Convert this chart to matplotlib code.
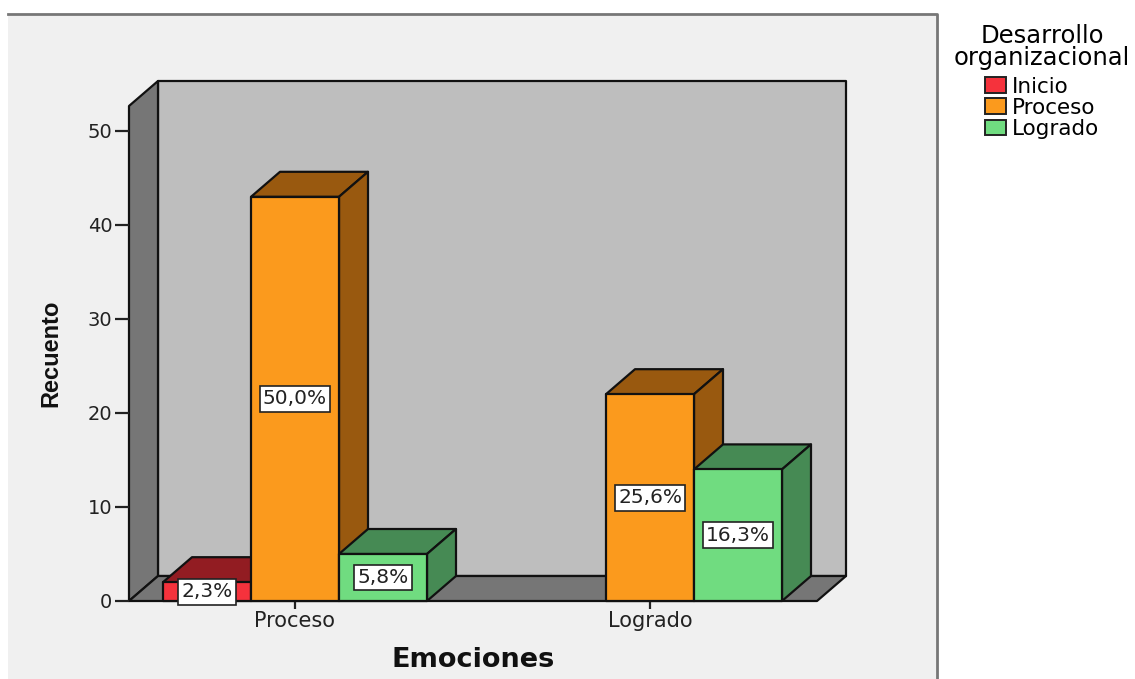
import matplotlib
matplotlib.use("Agg")
import matplotlib.pyplot as plt
from matplotlib.patches import Patch, Polygon, Rectangle
from matplotlib.lines import Line2D

categories = ["Proceso", "Logrado"]
series_names = ["Inicio", "Proceso", "Logrado"]
inicio = [2, 0]
proceso = [43, 22]
logrado = [5, 14]
inicio_labels = ["2,3%", None]
proceso_labels = ["50,0%", "25,6%"]
logrado_labels = ["5,8%", "16,3%"]
y_ticks = [0, 10, 20, 30, 40, 50]

front_colors = ["#f5323c", "#fb9a1d", "#70dc80"]
dark_colors = ["#921c22", "#99590f", "#468a54"]

W, H = 1135, 679
BAR_W = 88 / 355
DX = 29 / 355
DY = 25 / 9.4
X0, X1 = -166 / 355, 522 / 355
Y1 = 495 / 9.4

fig = plt.figure(figsize=(W / 100, H / 100), dpi=100, facecolor="white")

# grey panel behind the plot, with a border on top and right only
fig.add_artist(Rectangle((8 / W, 0), 929 / W, 1 - 14 / H, transform=fig.transFigure, fc="#f0f0f0", ec="none", zorder=-2))
fig.add_artist(Line2D([8 / W, 937 / W, 937 / W], [1 - 14 / H, 1 - 14 / H, 0], transform=fig.transFigure, color="#777777", lw=2, zorder=-1))

ax = fig.add_axes([129 / W, 1 - 601 / H, 688 / W, 495 / H])
ax.set_xlim(X0, X1)
ax.set_ylim(0, Y1)
ax.patch.set_visible(False)
for s in ax.spines.values():
    s.set_visible(False)


def face(points, color, z):
    ax.add_patch(Polygon(points, closed=True, fc=color, ec="#111111", lw=1.6, zorder=z, clip_on=False, joinstyle="round"))


# back wall, left wall and floor
face([(X0 + DX, DY), (X1 + DX, DY), (X1 + DX, Y1 + DY), (X0 + DX, Y1 + DY)], "#bebebe", 1)
face([(X0, 0), (X0, Y1), (X0 + DX, Y1 + DY), (X0 + DX, DY)], "#767676", 1)
face([(X0, 0), (X1, 0), (X1 + DX, DY), (X0 + DX, DY)], "#767676", 1)


def bar3d(left, value, front, dark, z):
    right = left + BAR_W
    face([(left, value), (right, value), (right + DX, value + DY), (left + DX, value + DY)], dark, z)
    face([(right, 0), (right, value), (right + DX, value + DY), (right + DX, DY)], dark, z)
    face([(left, 0), (right, 0), (right, value), (left, value)], front, z)


z = 2
for i in range(len(categories)):
    groups = [(inicio, inicio_labels), (proceso, proceso_labels), (logrado, logrado_labels)]
    for j, (vals, labs) in enumerate(groups):
        if vals[i] == 0:
            continue
        left = i + (j - 1) * BAR_W - BAR_W / 2
        bar3d(left, vals[i], front_colors[j], dark_colors[j], z)
        z += 1
        ax.text(left + BAR_W / 2, vals[i] / 2, labs[i], ha="center", va="center", fontsize=14.5,
                family="DejaVu Sans", color="#222222", zorder=20,
                bbox=dict(boxstyle="square,pad=0.17", fc="white", ec="#222222", lw=1.2))

ax.set_yticks(y_ticks)
ax.set_xticks(range(len(categories)))
ax.set_xticklabels(categories)
ax.tick_params(axis="y", length=10, width=1.6, color="#222222", pad=2, labelsize=14, labelcolor="#222222")
ax.tick_params(axis="x", length=6, width=1.6, color="#222222", pad=1, labelsize=15, labelcolor="#222222")

fig.text(51 / W, 1 - 353 / H, "Recuento", rotation=90, ha="center", va="center", fontsize=17,
         fontweight="bold", family=["Liberation Sans Narrow", "Liberation Sans"], color="#111111")
fig.text(473 / W, 1 - 660 / H, "Emociones", ha="center", va="center", fontsize=19.5,
         fontweight="bold", family="DejaVu Sans", color="#111111")

handles = [Patch(fc=c, ec="#222222", lw=1.4) for c in front_colors]
leg = fig.legend(handles, series_names, title="Desarrollo\norganizacional", loc="upper center",
                 bbox_to_anchor=(1042 / W, 1 - 11 / H), frameon=False, fontsize=15.5,
                 title_fontsize=17.5, handlelength=1.0, handleheight=0.72, handletextpad=0.28,
                 labelspacing=0.05, borderpad=0.1, alignment="center")
leg.get_title().set_multialignment("center")
leg.get_title().set_linespacing(0.88)
# more room between the legend title and its entries
leg._legend_box.sep = 5

fig.savefig("out.png", dpi=100, facecolor="white")
